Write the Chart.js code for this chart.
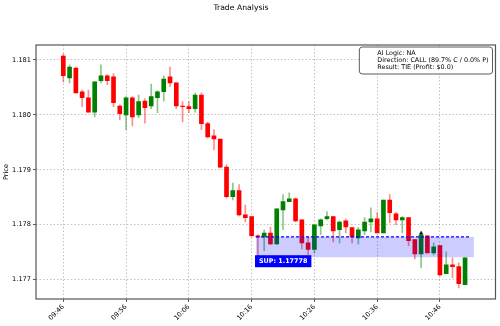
<!DOCTYPE html>
<html>
<head>
<meta charset="utf-8">
<script src="https://cdn.jsdelivr.net/npm/chart.js@4.4.1/dist/chart.umd.min.js"></script>
<style>
  html, body { margin: 0; padding: 0; background: #fff; }
  #wrap { width: 500px; height: 326px; }
</style>
</head>
<body>
<div id="wrap"><canvas id="chart" width="500" height="326"></canvas></div>
<script>
// one candle per minute, index 0 = 09:46
const opens = [1.18107,1.18067,1.18085,1.18042,1.18031,1.18005,1.18062,1.18071,1.18069,1.18016,
  1.18000,1.18031,1.18000,1.18025,1.18016,1.18031,1.18042,1.18069,1.18058,1.18016,
  1.18015,1.18011,1.18036,1.17984,1.17962,1.17956,1.17905,1.17851,1.17862,1.17818,
  1.17815,1.17780,1.17778,1.17785,1.17765,1.17827,1.17842,1.17847,1.17809,1.17767,
  1.17755,1.17798,1.17811,1.17815,1.17791,1.17807,1.17795,1.17776,1.17789,1.17805,
  1.17811,1.17785,1.17845,1.17820,1.17809,1.17813,1.17773,1.17747,1.17780,1.17749,
  1.17762,1.17711,1.17727,1.17724,1.17691];
const highs = [1.18111,1.18091,1.18087,1.18045,1.18045,1.18060,1.18091,1.18073,1.18075,1.18018,
  1.18033,1.18033,1.18036,1.18029,1.18056,1.18044,1.18071,1.18087,1.18058,1.18024,
  1.18024,1.18040,1.18040,1.17987,1.17973,1.17956,1.17909,1.17876,1.17873,1.17836,
  1.17816,1.17782,1.17791,1.17796,1.17829,1.17855,1.17858,1.17849,1.17809,1.17778,
  1.17800,1.17811,1.17824,1.17816,1.17807,1.17811,1.17795,1.17795,1.17813,1.17831,
  1.17822,1.17845,1.17855,1.17822,1.17815,1.17813,1.17773,1.17784,1.17780,1.17767,
  1.17762,1.17751,1.17740,1.17731,1.17740];
const lows = [1.18060,1.18058,1.18040,1.18015,1.18005,1.17996,1.18058,1.18055,1.18015,1.17991,
  1.17973,1.17980,1.17995,1.17985,1.18011,1.18004,1.18025,1.18051,1.18011,1.17987,
  1.18004,1.18005,1.17973,1.17958,1.17936,1.17904,1.17849,1.17845,1.17816,1.17805,
  1.17778,1.17742,1.17753,1.17764,1.17764,1.17791,1.17842,1.17805,1.17756,1.17745,
  1.17749,1.17782,1.17809,1.17769,1.17767,1.17785,1.17767,1.17765,1.17782,1.17787,
  1.17785,1.17785,1.17804,1.17800,1.17785,1.17762,1.17738,1.17722,1.17749,1.17745,
  1.17707,1.17711,1.17704,1.17685,1.17691];
const closes = [1.18071,1.18087,1.18040,1.18031,1.18005,1.18060,1.18071,1.18062,1.18022,1.18002,
  1.18031,1.17996,1.18024,1.18013,1.18033,1.18042,1.18065,1.18058,1.18016,1.18015,
  1.18011,1.18036,1.17984,1.17960,1.17956,1.17905,1.17851,1.17862,1.17818,1.17813,
  1.17780,1.17778,1.17785,1.17765,1.17829,1.17842,1.17847,1.17807,1.17767,1.17755,
  1.17800,1.17809,1.17815,1.17789,1.17805,1.17796,1.17778,1.17791,1.17805,1.17811,
  1.17785,1.17845,1.17822,1.17809,1.17813,1.17771,1.17747,1.17782,1.17749,1.17760,
  1.17709,1.17727,1.17724,1.17693,1.17740];

const tickPositions = [0, 10, 20, 30, 40, 50, 60];
const tickLabels = ['09:46', '09:56', '10:06', '10:16', '10:26', '10:36', '10:46'];
const yTicks = [1.177, 1.178, 1.179, 1.180, 1.181];
const xMin = -4.35, xMax = 68.85;
const yMin = 1.17665, yMax = 1.18127;

// support zone
const supLevel = 1.17778;
const zoneLow = 1.17741;
const zoneStart = 30.7, zoneEnd = 65.4, supLineEnd = 64.8;

// entry marker
const entryIndex = 57, entryPrice = 1.17785;

const chartTitle = 'Trade Analysis';
const infoLines = ['AI Logic: NA', 'Direction: CALL (89.7% C / 0.0% P)', 'Result: TIE (Profit: $0.0)'];

const FONT = "'DejaVu Sans'";
const isUp = i => closes[i] >= opens[i];

const overlay = {
    id: 'overlay',
    afterDatasetsDraw(chart) {
        const { ctx, chartArea: a, scales: { x, y } } = chart;
        ctx.save();
        ctx.beginPath();
        ctx.rect(a.left, a.top, a.width, a.height);
        ctx.clip();
        const x0 = x.getPixelForValue(zoneStart);
        const x1 = x.getPixelForValue(zoneEnd);
        const yTop = y.getPixelForValue(supLevel);
        const yBot = y.getPixelForValue(zoneLow);
        ctx.fillStyle = 'rgba(0,0,255,0.2)';
        ctx.fillRect(x0, yTop, x1 - x0, yBot - yTop);

        ctx.strokeStyle = '#0000ff';
        ctx.lineWidth = 1.2;
        ctx.setLineDash([3, 2]);
        ctx.beginPath();
        ctx.moveTo(x0, yTop);
        ctx.lineTo(x.getPixelForValue(supLineEnd), yTop);
        ctx.stroke();
        ctx.setLineDash([]);

        // label under the zone
        ctx.font = 'bold 6.4px ' + FONT;
        const txt = 'SUP: ' + supLevel.toFixed(5);
        const w = ctx.measureText(txt).width;
        const lx = x0 - 1, ly = yBot - 2;
        ctx.fillStyle = '#0000ff';
        ctx.fillRect(lx, ly, w + 8, 12);
        ctx.fillStyle = '#ffffff';
        ctx.textBaseline = 'middle';
        ctx.fillText(txt, lx + 4, ly + 6.5);
        ctx.restore();
    },
    afterDraw(chart) {
        const { ctx, chartArea: a } = chart;
        ctx.save();
        // title (sits a bit left of centre in the original)
        ctx.font = '7.7px ' + FONT;
        ctx.fillStyle = '#000';
        ctx.textAlign = 'center';
        ctx.textBaseline = 'middle';
        ctx.fillText(chartTitle, 241, 8);
        ctx.textAlign = 'left';

        // frame
        ctx.strokeStyle = '#555';
        ctx.lineWidth = 1.2;
        ctx.strokeRect(a.left, a.top, a.width, a.height);

        // info box
        ctx.font = '6.4px ' + FONT;
        const tw = Math.max(...infoLines.map(t => ctx.measureText(t).width));
        const bw = tw + 22, bh = 27;
        const bx = a.right - 3 - bw, by = a.top + 2;
        ctx.beginPath();
        ctx.roundRect(bx, by, bw, bh, 3);
        ctx.fillStyle = 'rgba(255,255,255,0.9)';
        ctx.fill();
        ctx.strokeStyle = '#333';
        ctx.lineWidth = 0.8;
        ctx.stroke();
        ctx.fillStyle = '#000';
        infoLines.forEach((t, i) => ctx.fillText(t, bx + 18, by + 6 + i * 7.3));
        ctx.restore();
    }
};

const gridOpts = { color: 'rgba(0,0,0,0.3)', lineWidth: 0.8, tickLength: 3, tickColor: '#333', tickWidth: 0.8, offset: false };

new Chart(document.getElementById('chart'), {
    type: 'bar',
    data: {
        datasets: [
            {
                label: 'wick',
                data: lows.map((l, i) => ({ x: i, y: [l, highs[i]] })),
                backgroundColor: c => isUp(c.dataIndex) ? 'rgba(0,128,0,0.45)' : 'rgba(255,0,0,0.45)',
                barThickness: 1,
                grouped: false,
                order: 2
            },
            {
                label: 'body',
                data: opens.map((o, i) => ({ x: i, y: [o, closes[i]] })),
                backgroundColor: c => isUp(c.dataIndex) ? '#008000' : '#ff0000',
                barThickness: 4,
                grouped: false,
                order: 1
            },
            {
                type: 'scatter',
                label: 'entry',
                data: [{ x: entryIndex, y: entryPrice }],
                pointStyle: 'triangle',
                radius: 1.8,
                backgroundColor: '#000',
                borderColor: '#000',
                borderWidth: 0.5,
                order: 0
            }
        ]
    },
    options: {
        responsive: false,
        animation: false,
        layout: { padding: { left: 0, right: 4, top: 45, bottom: 0 } },
        plugins: {
            legend: { display: false },
            tooltip: { enabled: false },
            title: { display: false }
        },
        scales: {
            x: {
                type: 'linear',
                min: xMin,
                max: xMax,
                offset: false,
                afterBuildTicks: s => { s.ticks = tickPositions.map(v => ({ value: v })); },
                afterFit: s => { s.height = 27; },
                ticks: {
                    autoSkip: false,
                    minRotation: 45,
                    maxRotation: 45,
                    padding: 1,
                    color: '#000',
                    font: { family: FONT, size: 6.6 },
                    callback: (v, i) => tickLabels[i]
                },
                grid: gridOpts,
                border: { display: false, dash: [1.5, 2] }
            },
            y: {
                min: yMin,
                max: yMax,
                beginAtZero: false,
                afterBuildTicks: s => { s.ticks = yTicks.map(v => ({ value: v })); },
                afterFit: s => { s.width = 36; },
                ticks: {
                    padding: 2,
                    color: '#000',
                    font: { family: FONT, size: 6.6 },
                    callback: v => v.toFixed(3)
                },
                title: {
                    display: true,
                    text: 'Price',
                    color: '#000',
                    font: { family: FONT, size: 6.6 },
                    padding: { top: 2, bottom: 0 }
                },
                grid: gridOpts,
                border: { display: false, dash: [1.5, 2] }
            }
        }
    },
    plugins: [overlay]
});
</script>
</body>
</html>
